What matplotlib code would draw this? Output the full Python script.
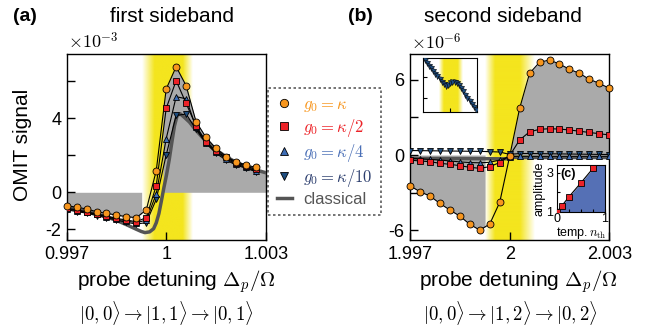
import matplotlib

matplotlib.use("Agg")
import matplotlib.pyplot as plt
import numpy as np
from matplotlib.colors import to_rgb
from matplotlib.lines import Line2D

plt.rcParams["font.family"] = ["Liberation Sans", "DejaVu Sans"]
plt.rcParams["mathtext.fontset"] = "cm"

W, H = 652, 331

# --- panel (a): first sideband, values in units of 1e-3 ---------------------
X_A = np.linspace(0.997, 1.0027, 20)
ORANGE_A = [-0.72, -0.81, -0.90, -1.05, -1.14, -1.23, -1.32, -1.37, -0.95, 1.17,
            5.59, 6.79, 5.77, 3.82, 2.97, 2.38, 1.93, 1.66, 1.48, 1.35]
RED_A = [-0.86, -0.95, -1.05, -1.17, -1.28, -1.41, -1.50, -1.59, -1.37, 0.36,
         4.54, 6.04, 4.81, 3.59, 2.74, 2.23, 1.89, 1.60, 1.42, 1.24]
UP_A = [-0.90, -0.99, -1.08, -1.20, -1.32, -1.45, -1.55, -1.65, -1.50, -0.09,
        2.90, 5.17, 5.06, 3.51, 2.68, 2.18, 1.82, 1.53, 1.35, 1.17]
DOWN_A = [-0.95, -1.04, -1.13, -1.26, -1.38, -1.50, -1.62, -1.72, -1.64, -0.38,
          2.02, 4.16, 4.23, 3.41, 2.65, 2.11, 1.75, 1.48, 1.30, 1.12]
CLS_A_X = [0.9970, 0.9973, 0.9976, 0.9979, 0.9982, 0.9985, 0.9988, 0.9991, 0.99925,
           0.99936, 0.9995, 0.99962, 0.99970, 0.99978, 0.99986, 0.99993, 1.00001,
           1.00009, 1.00017, 1.00025, 1.00033, 1.00042, 1.00055, 1.0007, 1.0009,
           1.0012, 1.0015, 1.0018, 1.0021, 1.0024, 1.0027, 1.0030]
CLS_A_Y = [-0.83, -0.93, -1.03, -1.17, -1.33, -1.52, -1.75, -2.00, -2.12,
           -2.18, -2.14, -1.97, -1.65, -1.15, -0.42, 0.25, 0.95,
           1.75, 2.70, 3.60, 4.15, 4.25, 4.05, 3.80, 3.35,
           2.75, 2.30, 1.93, 1.63, 1.40, 1.21, 1.06]
BAND_A = [0.99926, 0.99963, 1.00047, 1.00077]

# --- panel (b): second sideband, values in units of 1e-6 --------------------
X_B = np.linspace(1.997, 2.003, 21)
ORANGE_B = [-2.45, -2.93, -3.27, -3.86, -4.39, -4.87, -5.53, -5.99, -5.51, -3.78,
            -0.10, 3.72, 6.52, 7.40, 7.58, 7.26, 6.84, 6.52, 6.04, 5.72, 5.32]
RED_B = [-0.40, -0.48, -0.53, -0.66, -0.74, -0.85, -0.98, -1.06, -0.93, -0.60,
         -0.05, 1.20, 1.85, 2.05, 2.10, 2.07, 2.00, 1.90, 1.80, 1.70, 1.60]
UP_B = [-0.25, -0.30, -0.35, -0.40, -0.47, -0.55, -0.60, -0.62, -0.58, -0.40,
        -0.12, -0.10, -0.10, -0.10, -0.10, -0.10, -0.10, -0.10, -0.10, -0.10, -0.10]
DOWN_B = [0.36, 0.35, 0.34, 0.33, 0.32, 0.31, 0.30, 0.29, 0.27, 0.24,
          0.05, 0.12, 0.12, 0.11, 0.10, 0.09, 0.08, 0.07, 0.06, 0.05, 0.04]
CLS_B_X = [1.997, 1.998, 1.999, 1.9996, 1.9999, 2.0001, 2.0004, 2.001, 2.002, 2.003]
CLS_B_Y = [-0.28, -0.28, -0.29, -0.30, -0.30, -0.18, -0.20, -0.20, -0.20, -0.20]
BAND_B = [1.99926, 1.99956, 2.00031, 2.00076]

# zoomed inset of the g0 = kappa/10 curve (arbitrary units)
INSET_Y = [0.96, 0.91, 0.86, 0.81, 0.76, 0.71, 0.66, 0.61, 0.56, 0.51, 0.48, 0.50,
           0.54, 0.56, 0.56, 0.54, 0.50, 0.44, 0.38, 0.32, 0.26, 0.20, 0.15, 0.09, 0.04]
INSET_BAND = [6.5, 8.7, 15.0, 17.3]

# --- panel (c): amplitude vs temperature ------------------------------------
NTH = [0.0, 0.1, 0.25, 0.5, 0.75]
AMP = [1.0, 1.3, 1.77, 2.49, 3.23]
AMP_FILL_X = [0.0, 0.1, 0.25, 0.5, 0.75, 0.8, 1.0]
AMP_FILL_Y = [1.0, 1.3, 1.77, 2.49, 3.23, 3.4, 3.4]

SERIES = [
    (r"$g_0=\kappa$", "o", "#f7961e", "#f7961e"),
    (r"$g_0=\kappa/2$", "s", "#ec2227", "#ec2227"),
    (r"$g_0=\kappa/4$", "^", "#3d6db5", "#4a6fb6"),
    (r"$g_0=\kappa/10$", "v", "#1d4d80", "#2c3e6e"),
]
YELLOW = "#f4e51e"
GRAY = "#aaaaaa"
CLS_COLOR = "#555555"


def px(x, y, w=0, h=0):
    """Pixel box (top-left origin) -> figure fraction rect."""
    return [x / W, 1 - (y + h) / H, w / W, h / H]


def yellow_band(ax, edges, ylim, zorder):
    x0, x1, x2, x3 = edges
    xs = np.linspace(x0, x3, 300)
    rgba = np.zeros((1, 300, 4))
    rgba[..., :3] = to_rgb(YELLOW)
    rgba[..., 3] = np.interp(xs, edges, [0, 1, 1, 0])
    ax.imshow(rgba, extent=(x0, x3, ylim[0], ylim[1]), aspect="auto",
              interpolation="bilinear", zorder=zorder)


def draw_series(ax, x, values, ms=5):
    for (label, marker, color, _), y in reversed(list(zip(SERIES, values))):
        ax.plot(x, y, "-", color="black", lw=0.8, zorder=4)
        ax.plot(x, y, marker, ms=ms, mfc=color, mec="black", mew=0.6, zorder=5,
                clip_on=False if marker == "o" else True)


def style(ax, xlim, ylim, xticks, xlabels, yticks, ylabels):
    ax.set_xlim(*xlim)
    ax.set_ylim(*ylim)
    ax.set_xticks(xticks)
    ax.set_xticklabels(xlabels)
    ax.set_yticks(yticks)
    ax.set_yticklabels(ylabels)
    ax.tick_params(direction="in", length=6, width=1, labelsize=13, pad=4)
    for s in ax.spines.values():
        s.set_linewidth(1.0)


fig = plt.figure(figsize=(W / 100, H / 100), dpi=100)

# ---------------- panel (a) ----------------
ax_a = fig.add_axes(px(66.7, 54, 199, 186))
ylim_a = (-2.58, 7.48)
xf = np.linspace(0.997, 1.003, 1201)
top_a = np.interp(xf, list(X_A) + [CLS_A_X[-1]], ORANGE_A + [CLS_A_Y[-1]])
cls_a = np.interp(xf, CLS_A_X, CLS_A_Y)
ax_a.fill_between(xf, 0, top_a, where=xf <= BAND_A[0], color=GRAY, lw=0, zorder=1)
yellow_band(ax_a, BAND_A, ylim_a, 1.5)
ax_a.fill_between(xf, 0, top_a, where=(xf > BAND_A[0]) & (cls_a > 0),
                  color=GRAY, lw=0, zorder=2)
ax_a.plot(CLS_A_X, CLS_A_Y, color=CLS_COLOR, lw=2.5, zorder=3)
draw_series(ax_a, X_A, [ORANGE_A, RED_A, UP_A, DOWN_A])
style(ax_a, (0.997, 1.003), ylim_a, [0.997, 1.0, 1.003], ["0.997", "1", "1.003"],
      [-2, 0, 2, 4, 6], ["-2", "0", "", "4", ""])

# ---------------- panel (b) ----------------
ax_b = fig.add_axes(px(410, 54, 199.3, 186))
ylim_b = (-6.78, 8.06)
xg = np.linspace(1.997, 2.003, 1201)
top_b = np.interp(xg, X_B, ORANGE_B)
ax_b.fill_between(xg, 0, top_b, where=xg <= BAND_B[0], color=GRAY, lw=0, zorder=1)
yellow_band(ax_b, BAND_B, ylim_b, 1.5)
ax_b.fill_between(xg, 0, top_b, where=(xg > BAND_B[0]) & (top_b > 0),
                  interpolate=True, color=GRAY, lw=0, zorder=2)
ax_b.plot(CLS_B_X, CLS_B_Y, color=CLS_COLOR, lw=2.5, zorder=3)
draw_series(ax_b, X_B, [ORANGE_B, RED_B, UP_B, DOWN_B])
style(ax_b, (1.997, 2.003), ylim_b, [1.997, 2.0, 2.003], ["1.997", "2", "2.003"],
      [-6, -3, 0, 3, 6], ["-6", "", "0", "", "6"])

# inset: zoom of the kappa/10 curve
ax_i = fig.add_axes(px(423.3, 58.3, 54, 53.4))
xi = np.arange(len(INSET_Y))
ax_i.set_xlim(-0.6, len(INSET_Y) - 0.4)
ax_i.set_ylim(0, 1)
yellow_band(ax_i, INSET_BAND, (0, 1), 1)
ax_i.plot(xi, INSET_Y, "-", color="black", lw=0.6, zorder=3)
ax_i.plot(xi, INSET_Y, "v", ms=3.6, mfc=SERIES[3][2], mec="black", mew=0.4, zorder=4)
ax_i.set_xticks([12])
ax_i.set_yticks([0.25, 0.65])
ax_i.tick_params(direction="in", length=3, labelbottom=False, labelleft=False)
ax_i.set_facecolor("white")
ax_i.set_zorder(6)

# inset (c)
ax_c = fig.add_axes(px(557, 165, 48, 46.7))
ax_c.set_xlim(0, 1)
ax_c.set_ylim(1, 3.4)
ax_c.fill_between(AMP_FILL_X, 1, AMP_FILL_Y, color="#5570b5", lw=0, zorder=1)
ax_c.plot(AMP_FILL_X[:5], AMP_FILL_Y[:5], color="black", lw=0.8, zorder=2)
ax_c.plot(NTH, AMP, "s", ms=4.5, mfc="#ec2227", mec="black", mew=0.6, zorder=3)
ax_c.set_xticks([0, 0.25, 0.5, 0.75, 1])
ax_c.set_xticklabels(["0", "", "", "", "1"])
ax_c.set_yticks([1, 2, 3])
ax_c.set_yticklabels(["1", "", "3"])
ax_c.tick_params(direction="in", length=2.5, labelsize=9, pad=1)
ax_c.tick_params(axis="y", pad=2.5)
ax_c.set_xlabel(r"temp.$\,n_{\rm th}$", fontsize=9, labelpad=0)
ax_c.set_ylabel("amplitude", fontsize=9, labelpad=1)
ax_c.text(0.06, 0.93, "(c)", transform=ax_c.transAxes, fontsize=9,
          fontweight="bold", va="top")
ax_c.set_facecolor("white")
ax_c.set_zorder(6)

# legend
handles = [Line2D([], [], ls="none", marker=m, ms=6, mfc=c, mec="black", mew=0.6)
           for _, m, c, _ in SERIES]
handles.append(Line2D([], [], color=CLS_COLOR, lw=2.5))
labels = [s[0] for s in SERIES] + ["classical"]
leg = fig.legend(handles, labels, loc="upper left",
                 bbox_to_anchor=(268.3 / W, 1 - 88.3 / H), fontsize=12,
                 frameon=True, fancybox=False, handlelength=0.9,
                 handletextpad=0.7, labelspacing=0.18, borderpad=0.5,
                 borderaxespad=0)
leg.get_frame().set_edgecolor("#333333")
leg.get_frame().set_linestyle((0, (1.5, 1.5)))
leg.get_frame().set_linewidth(1.2)
for txt, col in zip(leg.get_texts(), [s[3] for s in SERIES] + [CLS_COLOR]):
    txt.set_color(col)

# texts
def ftext(x, y, s, **kw):
    fig.text(x / W, 1 - y / H, s, ha=kw.pop("ha", "center"), va=kw.pop("va", "center"), **kw)


ftext(24.7, 16.7, "(a)", fontsize=14, fontweight="bold")
ftext(172, 16.7, "first sideband", fontsize=15)
ftext(360, 16.7, "(b)", fontsize=14, fontweight="bold")
ftext(503, 16.7, "second sideband", fontsize=15)
ftext(68, 42.5, r"$\times10^{-3}$", fontsize=13, ha="left")
ftext(411, 43.5, r"$\times10^{-6}$", fontsize=13, ha="left")
ftext(23, 145, "OMIT signal", fontsize=15, rotation=90)
ftext(176, 281.7, r"probe detuning $\Delta_p/\Omega$", fontsize=15)
ftext(518, 281.7, r"probe detuning $\Delta_p/\Omega$", fontsize=15)
ftext(166.7, 313.3, r"$|0,0\rangle\rightarrow|1,1\rangle\rightarrow|0,1\rangle$", fontsize=13.5)
ftext(510, 313.3, r"$|0,0\rangle\rightarrow|1,2\rangle\rightarrow|0,2\rangle$", fontsize=13.5)

fig.savefig("out.png", dpi=100)
